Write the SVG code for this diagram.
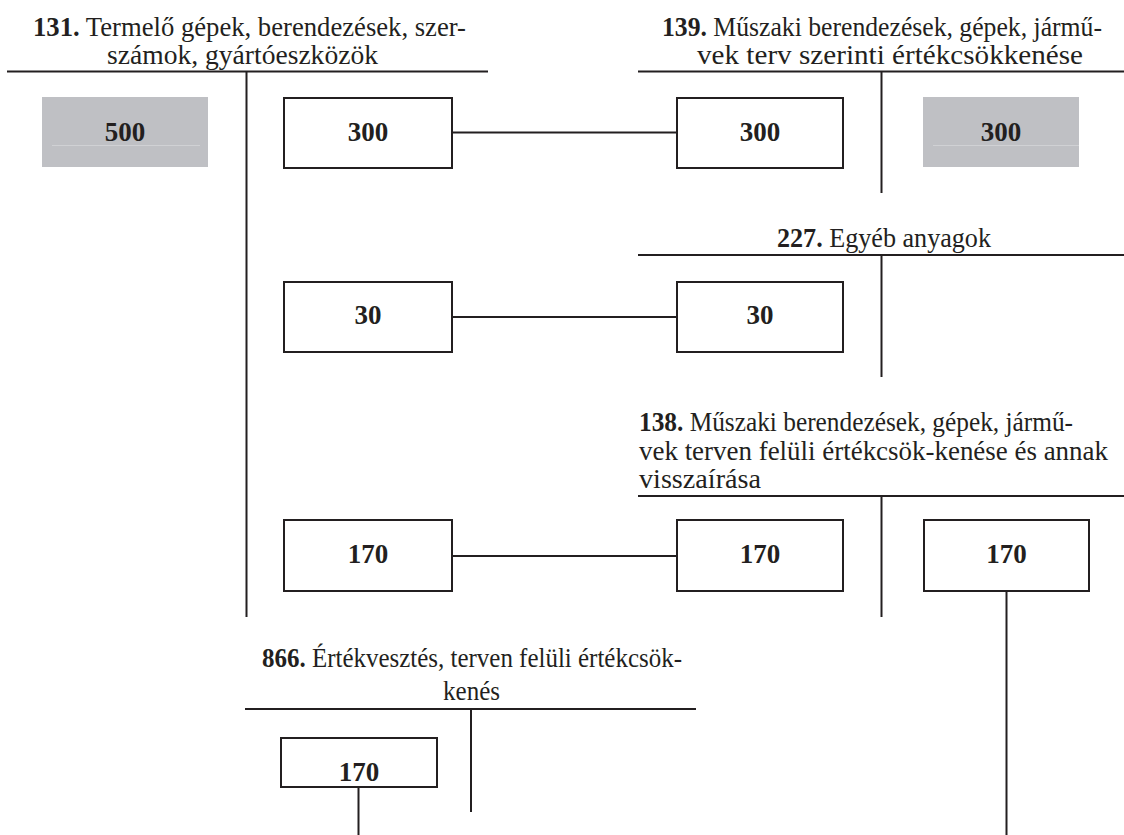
<svg xmlns="http://www.w3.org/2000/svg" width="1124" height="835" viewBox="0 0 1124 835">
  <style>
    .t { font-family: "Liberation Serif", "Times New Roman", serif; font-size: 27px; fill: #231f20; }
    .b { font-weight: bold; }
    .num { font-family: "Liberation Serif", "Times New Roman", serif; font-size: 27px; font-weight: bold; fill: #231f20; text-anchor: middle; }
    .ln { stroke: #231f20; stroke-width: 2; fill: none; }
    .box { fill: #ffffff; stroke: #231f20; stroke-width: 2; }
    .grey { fill: #bfc0c4; stroke: none; }
    .rule { stroke: #d0d1d4; stroke-width: 1; }
  </style>
  <rect width="1124" height="835" fill="#ffffff"/>

  <!-- T-account frames: title, horizontal rule, centre divider -->
  <g id="acc-131">
    <text class="t" x="33" y="36" textLength="433" lengthAdjust="spacingAndGlyphs"><tspan class="b">131.</tspan> Termelő gépek, berendezések, szer-</text>
    <text class="t" x="107" y="63.5" textLength="271" lengthAdjust="spacingAndGlyphs">számok, gyártóeszközök</text>
    <line class="ln" x1="7" y1="71.5" x2="488" y2="71.5"/>
    <line class="ln" x1="246.5" y1="71.5" x2="246.5" y2="617"/>
  </g>
  <g id="acc-139">
    <text class="t" x="662" y="36" textLength="440" lengthAdjust="spacingAndGlyphs"><tspan class="b">139.</tspan> Műszaki berendezések, gépek, jármű-</text>
    <text class="t" x="697" y="63.5" textLength="386" lengthAdjust="spacingAndGlyphs">vek terv szerinti értékcsökkenése</text>
    <line class="ln" x1="638" y1="71.5" x2="1124" y2="71.5"/>
    <line class="ln" x1="881.5" y1="71.5" x2="881.5" y2="193"/>
  </g>
  <g id="acc-227">
    <text class="t" x="777" y="246.5" textLength="214" lengthAdjust="spacingAndGlyphs"><tspan class="b">227.</tspan> Egyéb anyagok</text>
    <line class="ln" x1="638" y1="255" x2="1124" y2="255"/>
    <line class="ln" x1="881.5" y1="255" x2="881.5" y2="377"/>
  </g>
  <g id="acc-138">
    <text class="t" x="639" y="431" textLength="434" lengthAdjust="spacingAndGlyphs"><tspan class="b">138.</tspan> Műszaki berendezések, gépek, jármű-</text>
    <text class="t" x="639" y="460" textLength="469" lengthAdjust="spacingAndGlyphs">vek terven felüli értékcsök-kenése és annak</text>
    <text class="t" x="639" y="488" textLength="122" lengthAdjust="spacingAndGlyphs">visszaírása</text>
    <line class="ln" x1="638" y1="496" x2="1124" y2="496"/>
    <line class="ln" x1="881.5" y1="496" x2="881.5" y2="617"/>
  </g>
  <g id="acc-866">
    <text class="t" x="262" y="667" textLength="420" lengthAdjust="spacingAndGlyphs"><tspan class="b">866.</tspan> Értékvesztés, terven felüli értékcsök-</text>
    <text class="t" x="443" y="700" textLength="57" lengthAdjust="spacingAndGlyphs">kenés</text>
    <line class="ln" x1="245" y1="709" x2="696" y2="709"/>
    <line class="ln" x1="471" y1="709" x2="471" y2="812"/>
  </g>

  <!-- connectors between matching amounts -->
  <g id="connectors">
    <line class="ln" x1="452" y1="132.5" x2="677" y2="132.5"/>
    <line class="ln" x1="452" y1="317" x2="677" y2="317"/>
    <line class="ln" x1="452" y1="556" x2="677" y2="556"/>
    <line class="ln" x1="1006.5" y1="591" x2="1006.5" y2="835"/>
    <line class="ln" x1="358.5" y1="787" x2="358.5" y2="835"/>
  </g>

  <!-- amounts -->
  <g id="open-500">
    <rect class="grey" x="42" y="97" width="166" height="70"/>
    <line class="rule" x1="52" y1="145.5" x2="200" y2="145.5"/>
    <text class="num" x="125" y="140.5">500</text>
  </g>
  <g id="dr-131-300">
    <rect class="box" x="284" y="98" width="168" height="70"/>
    <text class="num" x="368" y="140.5">300</text>
  </g>
  <g id="dr-139-300">
    <rect class="box" x="677" y="98" width="166" height="70"/>
    <text class="num" x="760" y="140.5">300</text>
  </g>
  <g id="open-139-300">
    <rect class="grey" x="923" y="97" width="156" height="70"/>
    <line class="rule" x1="933" y1="145.5" x2="1079" y2="145.5"/>
    <text class="num" x="1001" y="140.5">300</text>
  </g>
  <g id="cr-131-30">
    <rect class="box" x="284" y="282" width="168" height="70"/>
    <text class="num" x="368" y="324">30</text>
  </g>
  <g id="dr-227-30">
    <rect class="box" x="677" y="282" width="166" height="70"/>
    <text class="num" x="760" y="324">30</text>
  </g>
  <g id="cr-131-170">
    <rect class="box" x="284" y="520" width="168" height="71"/>
    <text class="num" x="368" y="562.5">170</text>
  </g>
  <g id="dr-138-170">
    <rect class="box" x="677" y="520" width="166" height="71"/>
    <text class="num" x="760" y="562.5">170</text>
  </g>
  <g id="cr-138-170">
    <rect class="box" x="924" y="520" width="165" height="71"/>
    <text class="num" x="1006.5" y="562.5">170</text>
  </g>
  <g id="dr-866-170">
    <rect class="box" x="281" y="738" width="156" height="49"/>
    <text class="num" x="359" y="780.5">170</text>
  </g>
</svg>
